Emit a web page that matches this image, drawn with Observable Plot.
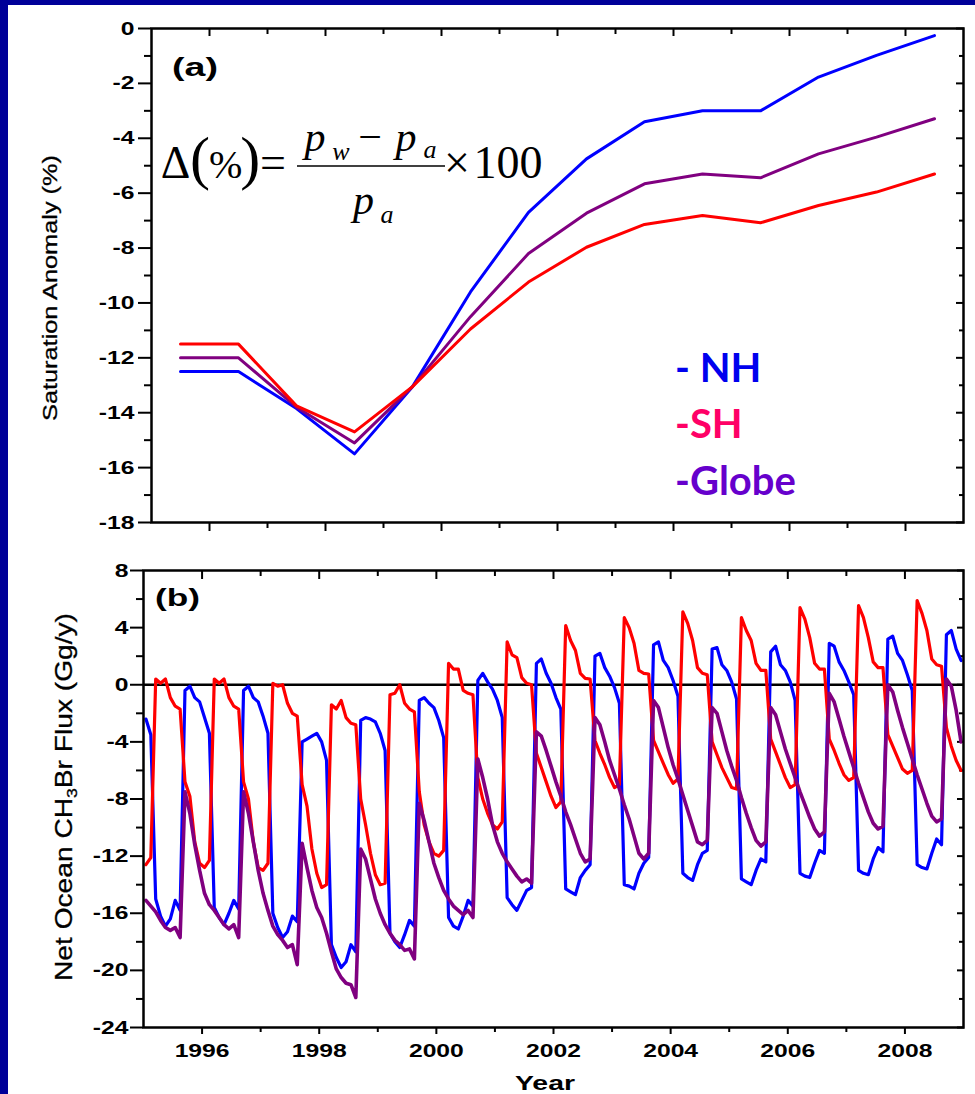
<!DOCTYPE html>
<html>
<head>
<meta charset="utf-8">
<script src="https://cdn.jsdelivr.net/npm/d3@7"></script>
<script src="https://cdn.jsdelivr.net/npm/@observablehq/plot@0.6"></script>
<style>
  html, body { margin: 0; padding: 0; background: #000099; overflow: hidden; }
  #page { position: relative; width: 975px; height: 1094px; background: #000099; overflow: hidden; }
  #sheet { position: absolute; left: 8px; top: 5px; right: 0; bottom: 0; background: #ffffff; }
  #pa { position: absolute; left: 0; top: 0; }
  #pb { position: absolute; left: 0; top: 540px; }
  #ov { position: absolute; left: 0; top: 0; }
</style>
</head>
<body>
<div id="page">
  <div id="sheet"></div>
  <div id="pa"></div>
  <div id="pb"></div>
  <svg id="ov" width="975" height="1094" xmlns="http://www.w3.org/2000/svg">
    <!-- panel tags -->
    <text x="172" y="76" font-family="'Liberation Sans', Arial, sans-serif" font-weight="bold" font-size="25" textLength="46" lengthAdjust="spacingAndGlyphs">(a)</text>
    <text x="155" y="606" font-family="'Liberation Sans', Arial, sans-serif" font-weight="bold" font-size="24" textLength="45" lengthAdjust="spacingAndGlyphs">(b)</text>
    <!-- axis titles -->
    <text transform="translate(57,288) rotate(-90)" text-anchor="middle" font-family="'Liberation Sans', Arial, sans-serif" font-size="21" stroke="#000" stroke-width="0.3" textLength="266" lengthAdjust="spacingAndGlyphs">Saturation Anomaly (%)</text>
    <text transform="translate(72,797) rotate(-90)" text-anchor="middle" font-family="'Liberation Sans', Arial, sans-serif" font-size="24" stroke="#000" stroke-width="0.3" textLength="368" lengthAdjust="spacingAndGlyphs">Net Ocean CH<tspan dy="5" font-size="15">3</tspan><tspan dy="-5">Br Flux (Gg/y)</tspan></text>
    <text x="545" y="1090" text-anchor="middle" font-family="'Liberation Sans', Arial, sans-serif" font-weight="bold" font-size="21" textLength="60" lengthAdjust="spacingAndGlyphs">Year</text>
    <!-- formula -->
    <g font-family="'Liberation Serif', 'Times New Roman', serif" fill="#000">
      <text x="175.5" y="178" text-anchor="middle" font-size="46">Δ</text>
      <text x="190" y="178" font-size="60">(<tspan font-size="40" dx="-1">%</tspan><tspan font-size="60" dx="-2">)</tspan></text>
      <text x="273" y="178" text-anchor="middle" font-size="46">=</text>
      <text x="315" y="151" text-anchor="middle" font-size="42" font-style="italic">p</text>
      <text x="341" y="160" text-anchor="middle" font-size="26" font-style="italic">w</text>
      <text x="370" y="151" text-anchor="middle" font-size="42">−</text>
      <text x="406" y="151" text-anchor="middle" font-size="42" font-style="italic">p</text>
      <text x="430" y="158" text-anchor="middle" font-size="26" font-style="italic">a</text>
      <line x1="297" x2="445" y1="166" y2="166" stroke="#000" stroke-width="1.6"/>
      <text x="363.5" y="214" text-anchor="middle" font-size="42" font-style="italic">p</text>
      <text x="387" y="223" text-anchor="middle" font-size="26" font-style="italic">a</text>
      <text x="457" y="178" text-anchor="middle" font-size="46">×</text>
      <text x="508" y="178" text-anchor="middle" font-size="46">100</text>
    </g>
    <!-- legend -->
    <g font-family="Lato, 'Open Sans', sans-serif" font-weight="bold" font-size="40">
      <text x="675" y="382" fill="#0000ee">- NH</text>
      <text x="675" y="438" fill="#ff0066">-SH</text>
      <text x="675" y="495" fill="#6600cc">-Globe</text>
    </g>
  </svg>
</div>
<script>
// ---------- Panel (a): saturation anomaly (%) ----------
const satYears  = [1995.5, 1996.5, 1997.5, 1998.5, 1999.5, 2000.5, 2001.5, 2002.5, 2003.5, 2004.5, 2005.5, 2006.5, 2007.5, 2008.5];
const satNH     = [-12.5, -12.5, -13.85, -15.5, -13.05, -9.6, -6.7, -4.75, -3.4, -3.0, -3.0, -1.77, -0.98, -0.26];
const satGlobe  = [-12.0, -12.0, -13.8, -15.1, -13.05, -10.5, -8.2, -6.73, -5.66, -5.3, -5.44, -4.57, -3.96, -3.29];
const satSH     = [-11.5, -11.5, -13.75, -14.7, -13.05, -10.95, -9.24, -7.97, -7.14, -6.81, -7.08, -6.45, -5.96, -5.3];

// ---------- Panel (b): monthly net ocean CH3Br flux (Gg/y), Jan..Dec of 1995..2008 ----------
const fluxStartYear = 1995;
const fluxNH = [
  -2.4, -3.5, -15.0, -16.2, -16.9, -16.4, -15.1, -15.8, -0.4, -0.1, -0.9, -1.2,
  -2.3, -3.4, -15.6, -16.3, -16.8, -16.0, -15.1, -15.7, -0.4, -0.1, -0.9, -1.2,
  -2.2, -3.4, -16.0, -17.0, -17.7, -17.3, -16.2, -16.6, -4.0, -3.8, -3.6, -3.4,
  -4.0, -5.3, -18.2, -19.1, -19.8, -19.4, -18.2, -18.7, -2.5, -2.3, -2.4, -2.6,
  -3.4, -4.6, -17.4, -18.0, -18.4, -17.5, -16.5, -16.9, -1.1, -0.9, -1.3, -1.6,
  -2.5, -3.7, -16.3, -16.9, -17.1, -16.2, -15.1, -15.5, 0.3, 0.8, 0.2, -0.3,
  -1.1, -2.3, -14.9, -15.4, -15.8, -15.1, -14.4, -14.2, 1.5, 1.8, 0.8, 0.1,
  -0.9, -1.7, -14.3, -14.5, -14.7, -13.5, -13.0, -12.6, 2.0, 2.2, 1.2, 0.6,
  -0.2, -1.3, -14.0, -14.1, -14.3, -13.2, -12.5, -12.1, 2.8, 3.0, 1.7, 1.2,
  0.3, -0.8, -13.2, -13.5, -13.7, -12.6, -11.8, -11.6, 2.5, 2.6, 1.4, 1.0,
  0.2, -1.0, -13.6, -13.8, -14.0, -13.0, -12.2, -12.4, 2.3, 2.7, 1.4, 1.0,
  0.2, -1.1, -13.2, -13.4, -13.5, -12.5, -11.6, -11.8, 2.9, 2.7, 1.6, 1.0,
  0.2, -0.7, -13.0, -13.2, -13.3, -12.2, -11.4, -11.7, 3.2, 3.4, 2.2, 1.7,
  0.7, -0.4, -12.6, -12.8, -12.9, -11.8, -10.8, -11.2, 3.5, 3.8, 2.5, 1.7
];
const fluxSH = [
  -12.6, -12.1, 0.4, 0.1, 0.4, -0.9, -1.5, -1.7, -6.8, -7.8, -11.0, -12.5,
  -12.8, -12.3, 0.4, 0.1, 0.4, -0.9, -1.5, -1.7, -6.8, -8.0, -11.0, -12.8,
  -13.0, -12.5, 0.1, -0.1, 0.0, -1.3, -2.0, -2.2, -7.0, -8.5, -11.5, -13.2,
  -14.2, -14.0, -1.4, -1.7, -1.1, -2.3, -2.7, -2.8, -8.0, -9.8, -11.8, -13.3,
  -14.0, -13.9, -0.7, -0.6, 0.0, -1.3, -1.7, -1.9, -7.5, -9.8, -11.0, -11.8,
  -12.0, -11.6, 1.5, 1.1, 1.1, -0.4, -0.6, -0.7, -6.5, -8.0, -9.0, -9.8,
  -10.1, -9.6, 3.0, 2.1, 1.9, 0.5, 0.1, 0.0, -4.8, -5.8, -6.8, -7.8,
  -8.6, -8.2, 4.15, 3.1, 2.4, 0.8, 0.45, 0.4, -3.9, -4.8, -5.6, -6.5,
  -7.2, -7.0, 4.7, 4.0, 2.9, 1.0, 0.8, 0.75, -3.9, -4.7, -5.5, -6.3,
  -6.9, -6.6, 5.1, 4.3, 3.1, 1.2, 0.8, 0.7, -4.0, -4.9, -5.8, -6.5,
  -7.2, -7.3, 4.7, 3.8, 3.1, 1.5, 1.0, 1.0, -3.8, -4.7, -5.6, -6.5,
  -7.2, -7.0, 5.4, 4.6, 3.3, 1.5, 1.1, 1.1, -3.8, -4.6, -5.5, -6.3,
  -6.7, -6.5, 5.55, 4.7, 3.3, 1.6, 1.2, 1.2, -3.5, -4.3, -5.1, -5.9,
  -6.2, -6.0, 5.9, 5.0, 3.8, 1.8, 1.4, 1.3, -3.0, -4.3, -5.3, -6.0
];
const fluxGlobe = [
  -15.1, -15.5, -15.9, -16.5, -17.0, -17.2, -17.0, -17.7, -7.5, -9.0, -11.2, -13.0,
  -14.6, -15.4, -15.8, -16.3, -16.8, -17.1, -16.8, -17.7, -7.5, -9.0, -11.0, -13.0,
  -14.6, -15.8, -16.9, -17.5, -17.9, -18.4, -18.2, -19.6, -11.1, -12.8, -14.4, -15.6,
  -16.3, -17.4, -18.7, -19.9, -20.5, -20.9, -21.0, -21.9, -11.5, -12.2, -13.6, -15.0,
  -16.0, -16.8, -17.4, -17.9, -18.2, -18.6, -18.5, -19.2, -8.3, -9.5, -11.0, -12.5,
  -13.5, -14.4, -15.0, -15.5, -15.8, -16.1, -15.8, -16.3, -5.2, -6.5, -8.0, -9.8,
  -11.0, -11.8, -12.4, -12.9, -13.4, -13.8, -13.6, -13.9, -3.3, -3.6, -4.6, -5.7,
  -6.8, -7.8, -8.9, -9.8, -10.8, -11.8, -12.4, -12.2, -2.3, -2.8, -4.0, -5.3,
  -6.3, -7.3, -8.4, -9.4, -10.6, -11.8, -12.2, -11.8, -1.1, -1.6, -3.0, -4.4,
  -5.6, -6.6, -7.7, -8.8, -9.9, -11.0, -11.2, -10.9, -1.6, -2.0, -3.3, -4.6,
  -5.7, -6.7, -7.9, -9.0, -10.0, -10.9, -11.3, -11.0, -1.6, -2.1, -3.3, -4.5,
  -5.5, -6.5, -7.5, -8.4, -9.3, -10.1, -10.6, -10.3, -0.6, -1.2, -2.4, -3.6,
  -4.7, -5.8, -6.9, -7.9, -8.9, -9.7, -10.1, -9.9, 0.0, -0.5, -1.8, -3.0,
  -4.1, -5.2, -6.3, -7.3, -8.3, -9.2, -9.6, -9.4, 0.4, -0.1, -1.8, -4.0
];

// ---------- ticks ----------
const yearsMajor = [1996, 1998, 2000, 2002, 2004, 2006, 2008];
const yearsMinor = [1997, 1999, 2001, 2003, 2005, 2007];
const satTicksMajor = [0, -2, -4, -6, -8, -10, -12, -14, -16, -18];
const satTicksMinor = [-1, -3, -5, -7, -9, -11, -13, -15, -17];
const fluxTicksMajor = [8, 4, 0, -4, -8, -12, -16, -20, -24];
const fluxTicksMinor = [6, 2, -2, -6, -10, -14, -18, -22];

const colors = {NH: "#0000ff", SH: "#ff0000", Globe: "#800080"};

const satRows = (vals) => vals.map((v, i) => ({x: satYears[i], y: v}));
const fluxRows = (vals) => vals.map((v, i) => ({x: fluxStartYear + (i + 0.5) / 12, y: v}));

const baseStyle = {
  background: "transparent",
  color: "black",
  fontFamily: "'Liberation Sans', Arial, sans-serif",
  fontSize: "19px",
  fontWeight: "bold",
  overflow: "visible"
};
const fmt = d => String(d);
const none = () => "";

function stretchLabels(svg, sx) {
  svg.querySelectorAll('g[aria-label$="tick label"] text').forEach(t => {
    if (!t.textContent) return;
    const x = +t.getAttribute("x") || 0, y = +t.getAttribute("y") || 0;
    const tr = t.getAttribute("transform") || "";
    t.setAttribute("transform", `${tr} translate(${x},${y}) scale(${sx},1) translate(${-x},${-y})`);
  });
}

const pa = Plot.plot({
  width: 975, height: 540,
  marginLeft: 151, marginRight: 12, marginTop: 28, marginBottom: 18,
  x: {domain: [1995, 2009]},
  y: {domain: [-18, 0]},
  style: baseStyle,
  marks: [
    Plot.axisY(satTicksMajor, {anchor: "left", tickSize: 13, tickPadding: 4, tickFormat: fmt, label: null, strokeWidth: 2}),
    Plot.axisY(satTicksMinor, {anchor: "left", tickSize: 7, tickFormat: none, label: null, strokeWidth: 2}),
    Plot.axisY(satTicksMajor, {anchor: "right", tickSize: 8, dx: -8, tickFormat: none, label: null, strokeWidth: 2}),
    Plot.axisY(satTicksMinor, {anchor: "right", tickSize: 5, dx: -5, tickFormat: none, label: null, strokeWidth: 2}),
    Plot.axisX(yearsMajor, {anchor: "bottom", tickSize: 9, tickFormat: none, label: null, strokeWidth: 2}),
    Plot.axisX(yearsMinor, {anchor: "bottom", tickSize: 6, tickFormat: none, label: null, strokeWidth: 2}),
    Plot.axisX(yearsMajor, {anchor: "top", tickSize: 7, dy: 7, tickFormat: none, label: null, strokeWidth: 2}),
    Plot.axisX(yearsMinor, {anchor: "top", tickSize: 5, dy: 5, tickFormat: none, label: null, strokeWidth: 2}),
    Plot.line(satRows(satNH), {x: "x", y: "y", stroke: colors.NH, strokeWidth: 3}),
    Plot.line(satRows(satGlobe), {x: "x", y: "y", stroke: colors.Globe, strokeWidth: 3}),
    Plot.line(satRows(satSH), {x: "x", y: "y", stroke: colors.SH, strokeWidth: 3}),
    Plot.frame({stroke: "black", strokeWidth: 2.5})
  ]
});
stretchLabels(pa, 1.3);
document.getElementById("pa").append(pa);

const pb = Plot.plot({
  width: 975, height: 554,
  marginLeft: 143, marginRight: 12, marginTop: 30, marginBottom: 67,
  x: {domain: [1995, 2009]},
  y: {domain: [-24, 8]},
  style: baseStyle,
  marks: [
    Plot.axisY(fluxTicksMajor, {anchor: "left", tickSize: 13, tickPadding: 2, tickFormat: fmt, label: null, strokeWidth: 2}),
    Plot.axisY(fluxTicksMinor, {anchor: "left", tickSize: 7, tickFormat: none, label: null, strokeWidth: 2}),
    Plot.axisY(fluxTicksMajor, {anchor: "right", tickSize: 7, dx: -7, tickFormat: none, label: null, strokeWidth: 2}),
    Plot.axisY(fluxTicksMinor, {anchor: "right", tickSize: 5, dx: -5, tickFormat: none, label: null, strokeWidth: 2}),
    Plot.axisX(yearsMajor, {anchor: "bottom", tickSize: 7, tickPadding: 9, tickFormat: fmt, label: null, strokeWidth: 2}),
    Plot.axisX(yearsMinor, {anchor: "bottom", tickSize: 5, tickFormat: none, label: null, strokeWidth: 2}),
    Plot.axisX(yearsMajor, {anchor: "top", tickSize: 8, dy: 8, tickFormat: none, label: null, strokeWidth: 2}),
    Plot.axisX(yearsMinor, {anchor: "top", tickSize: 5, dy: 5, tickFormat: none, label: null, strokeWidth: 2}),
    Plot.ruleY([0], {stroke: "black", strokeWidth: 2.5}),
    Plot.line(fluxRows(fluxNH), {x: "x", y: "y", stroke: colors.NH, strokeWidth: 3.2}),
    Plot.line(fluxRows(fluxSH), {x: "x", y: "y", stroke: colors.SH, strokeWidth: 3.2}),
    Plot.line(fluxRows(fluxGlobe), {x: "x", y: "y", stroke: colors.Globe, strokeWidth: 3.6}),
    Plot.frame({stroke: "black", strokeWidth: 2.5})
  ]
});
stretchLabels(pb, 1.3);
document.getElementById("pb").append(pb);
</script>
</body>
</html>
